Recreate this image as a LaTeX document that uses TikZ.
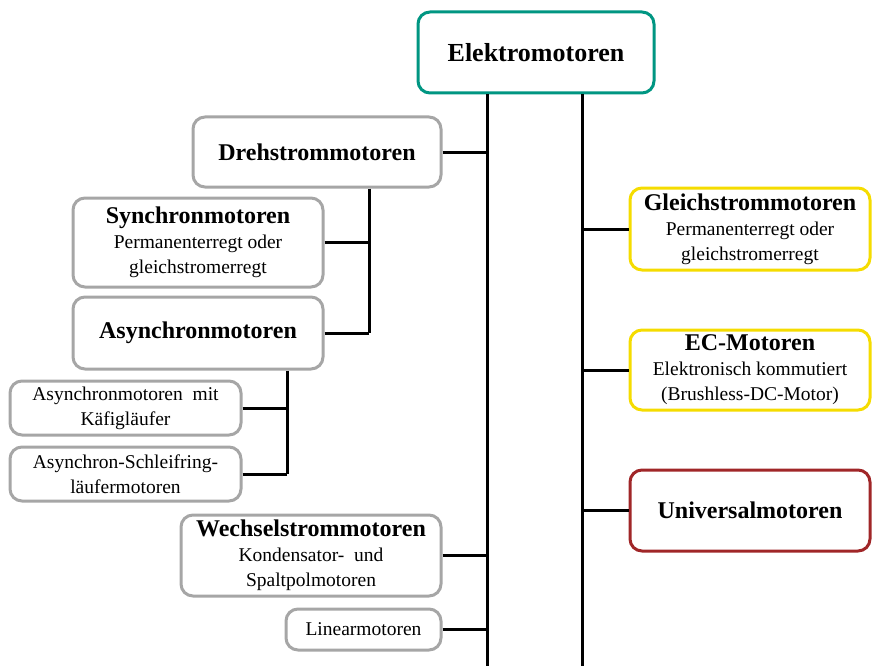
\documentclass[tikz,border=0pt]{standalone}
\usepackage{fontspec}
\setmainfont{Liberation Serif}
\definecolor{gry}{RGB}{166,166,166}
\definecolor{tea}{RGB}{0,150,130}
\definecolor{yel}{RGB}{245,220,0}
\definecolor{rd}{RGB}{160,38,40}
\newcommand{\hd}[1]{{\fontsize{24}{27}\selectfont\bfseries #1}}

\begin{document}
\begin{tikzpicture}[x=1pt,y=-1pt,line width=3pt]
\tikzset{M/.style={draw=gry,rounded corners=12pt,fill=white,align=center,
  inner sep=2pt,font=\fontsize{19.5}{25}\selectfont},
G/.style={M,draw=yel},
R/.style={M,draw=rd}
}
\useasboundingbox (0,0) rectangle (872,666);

% Top box and the two trunks
\node(0)[M,draw=tea,minimum width=236,minimum height=81,font=\fontsize{26}{30}\selectfont\bfseries] at (536,52.5) {Elektromotoren};
\coordinate(l) at (487,666);
\coordinate(r) at (582,666);
\draw (0.south -| l) -- (l);
\draw (0.south -| r) -- (r);

% Left side
\node(1)[M,minimum width=248,minimum height=70] at (317,152) {\hd{Drehstrommotoren}};
\node(11)[M,minimum width=250,minimum height=89] at (198,242.5) {\hd{Synchronmotoren}\\Permanenterregt oder\\gleichstromerregt};
\node(12)[M,minimum width=250,minimum height=72] at (198,333) {\hd{Asynchronmotoren}};
\node(121)[M,minimum width=231,minimum height=54] at (125.5,408) {Asynchronmotoren\ \ mit\\Käfigläufer};
\node(122)[M,minimum width=231,minimum height=54] at (125.5,474) {Asynchron-Schleifring-\\läufermotoren};
\node(2)[M,minimum width=260,minimum height=81] at (311,555.5) {\hd{Wechselstrommotoren}\\Kondensator-\ \ und\\Spaltpolmotoren};
\node(3)[M,minimum width=155,minimum height=41] at (363.5,629.5) {Linearmotoren};

\coordinate(d) at (369,333);
\coordinate(a) at (287,474);
\draw (1.east) -- (1.east -| l);
\draw (1.south -| d) -- (d);
\draw (11.east) -- (11.east -| d);
\draw (12.east) -- (d);
\draw (12.south -| a) -- (a);
\draw (121.east) -- (121.east -| a);
\draw (122.east) -- (a);
\draw (2.east) -- (2.east -| l);
\draw (3.east) -- (3.east -| l);

% Right side
\node(4)[G,minimum width=240,minimum height=82] at (750,229) {\hd{Gleichstrommotoren}\\Permanenterregt oder\\gleichstromerregt};
\node(5)[G,minimum width=240,minimum height=80] at (750,370) {\hd{EC-Motoren}\\Elektronisch kommutiert\\(Brushless-DC-Motor)};
\node(6)[R,minimum width=240,minimum height=81] at (750,510.5) {\hd{Universalmotoren}};

\draw (4.west) -- (4.west -| r);
\draw (5.west) -- (5.west -| r);
\draw (6.west) -- (6.west -| r);

\end{tikzpicture}
\end{document}
